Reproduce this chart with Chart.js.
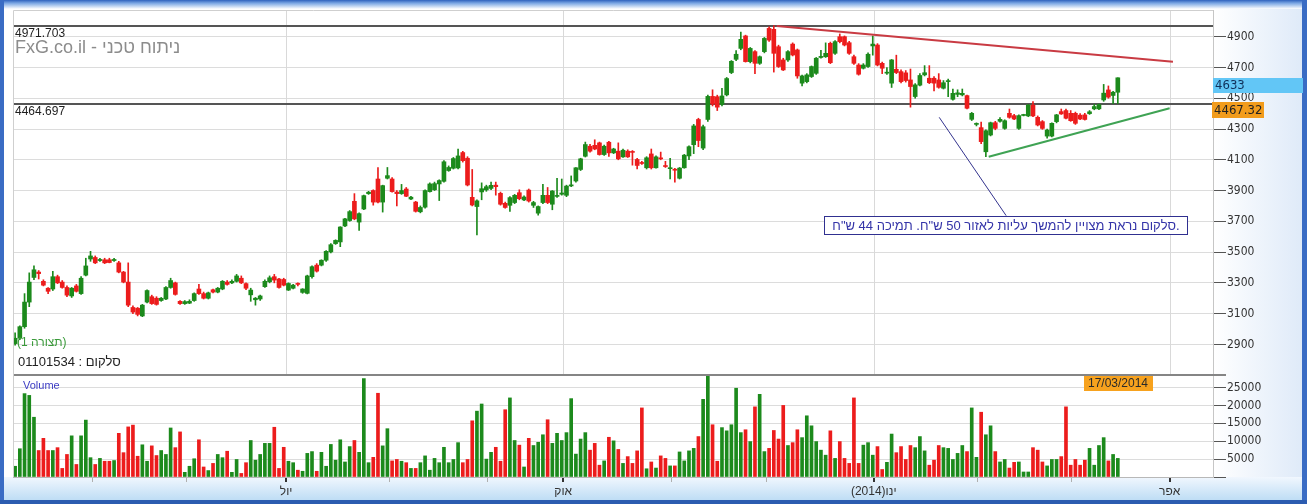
<!DOCTYPE html>
<html>
<head>
<meta charset="utf-8">
<title>סלקום</title>
<script src="https://cdn.jsdelivr.net/npm/chart.js@4.4.1/dist/chart.umd.min.js"></script>
<style>
  html, body { margin: 0; padding: 0; background: #fff; }
  #wrap { width: 1307px; height: 504px; }
  canvas { display: block; }
</style>
</head>
<body>
<div id="wrap"><canvas id="chart" width="1307" height="504"></canvas></div>
<script>
// daily candles, one entry per trading day (Apr 2013 - 17/03/2014)
const opens = [
  2905, 2940, 3015, 3175, 3335, 3370, 3310, 3265, 3260, 3340,
  3305, 3270, 3215, 3280, 3230, 3350, 3455, 3465, 3445, 3450,
  3450, 3445, 3430, 3370, 3305, 3140, 3135, 3085, 3175, 3210,
  3200, 3185, 3195, 3270, 3300, 3180, 3165, 3168, 3185, 3260,
  3230, 3200, 3255, 3240, 3260, 3305, 3300, 3310, 3330, 3295,
  3222, 3190, 3195, 3275, 3307, 3340, 3325, 3322, 3253, 3265,
  3293, 3238, 3232, 3340, 3415, 3415, 3447, 3501, 3555, 3566,
  3670, 3705, 3830, 3695, 3780, 3880, 3900, 3975, 3825, 3980,
  3975, 3890, 3880, 3910, 3845, 3825, 3762, 3792, 3893, 3905,
  3943, 3960, 4030, 4045, 4047, 4147, 4110, 3856, 3796, 3891,
  3904, 3914, 3935, 3882, 3817, 3804, 3822, 3886, 3839, 3903,
  3804, 3753, 3822, 3869, 3811, 3862, 3876, 3869, 3930, 3962,
  4037, 4123, 4188, 4194, 4210, 4134, 4214, 4145, 4156, 4119,
  4156, 4152, 4102, 4082, 4048, 4138, 4048, 4112, 4062, 4042,
  4038, 3980, 4048, 4125, 4198, 4362, 4176, 4362, 4512, 4510,
  4460, 4522, 4667, 4753, 4824, 4905, 4738, 4803, 4727, 4803,
  4954, 4948, 4835, 4749, 4749, 4852, 4814, 4598, 4608, 4641,
  4662, 4765, 4770, 4857, 4792, 4900, 4900, 4861, 4770, 4716,
  4695, 4706, 4840, 4846, 4727, 4663, 4598, 4688, 4673, 4665,
  4619, 4511, 4585, 4652, 4630, 4630, 4619, 4565, 4608, 4493,
  4525, 4522, 4517, 4363, 4330, 4309, 4152, 4261, 4341, 4350,
  4304, 4402, 4387, 4304, 4388, 4385, 4455, 4376, 4348, 4254,
  4254, 4348, 4413, 4420, 4402, 4402, 4390, 4392, 4400, 4431,
  4431, 4489, 4554, 4518, 4539
];
const highs = [
  2975, 3020, 3230, 3365, 3410, 3380, 3320, 3270, 3375, 3350,
  3315, 3280, 3270, 3290, 3340, 3460, 3505, 3475, 3460, 3460,
  3460, 3460, 3440, 3375, 3430, 3150, 3140, 3160, 3255, 3220,
  3210, 3205, 3275, 3330, 3305, 3185, 3185, 3190, 3235, 3290,
  3240, 3240, 3260, 3270, 3315, 3315, 3320, 3355, 3345, 3300,
  3265, 3205, 3220, 3320, 3345, 3355, 3330, 3330, 3300, 3290,
  3300, 3262, 3350, 3410, 3425, 3450, 3510, 3555, 3580, 3665,
  3720, 3770, 3880, 3755, 3870, 3895, 3905, 4050, 3935, 4050,
  3985, 3900, 3940, 3920, 3862, 3830, 3800, 3905, 3950, 3955,
  3970, 4095, 4060, 4115, 4170, 4155, 4120, 4037, 3840, 3950,
  3935, 3955, 3955, 3890, 3825, 3860, 3875, 3905, 3865, 3910,
  3830, 3800, 3940, 3920, 3900, 3980, 3975, 3935, 3995, 4050,
  4110, 4215, 4200, 4230, 4215, 4195, 4220, 4175, 4210, 4170,
  4165, 4160, 4110, 4090, 4120, 4170, 4125, 4150, 4090, 4110,
  4045, 4050, 4135, 4190, 4330, 4370, 4325, 4520, 4555, 4520,
  4565, 4635, 4745, 4810, 4930, 4910, 4830, 4810, 4775, 4895,
  4965, 4972, 4845, 4760, 4810, 4860, 4820, 4650, 4660, 4710,
  4765, 4812, 4860, 4865, 4875, 4918, 4905, 4870, 4780, 4725,
  4725, 4795, 4905, 4855, 4735, 4700, 4752, 4780, 4685, 4680,
  4690, 4595, 4660, 4712, 4712, 4640, 4660, 4615, 4625, 4560,
  4555, 4560, 4520, 4408, 4340, 4345, 4295, 4345, 4350, 4375,
  4360, 4430, 4395, 4392, 4396, 4460, 4478, 4385, 4355, 4300,
  4340, 4395, 4430, 4430, 4420, 4410, 4400, 4402, 4420, 4460,
  4462, 4590, 4580, 4545, 4633
];
const lows = [
  2895, 2930, 3005, 3145, 3320, 3325, 3280, 3230, 3250, 3295,
  3265, 3210, 3205, 3240, 3225, 3345, 3440, 3425, 3440, 3425,
  3430, 3440, 3365, 3300, 3145, 3100, 3085, 3080, 3170, 3160,
  3155, 3180, 3190, 3265, 3220, 3160, 3160, 3165, 3180, 3225,
  3195, 3195, 3235, 3235, 3255, 3285, 3295, 3305, 3295, 3255,
  3180, 3155, 3185, 3270, 3300, 3300, 3265, 3280, 3250, 3260,
  3280, 3232, 3228, 3330, 3370, 3410, 3440, 3495, 3550, 3535,
  3665, 3700, 3710, 3640, 3775, 3875, 3805, 3820, 3760, 3975,
  3890, 3800, 3875, 3860, 3840, 3760, 3755, 3785, 3890, 3900,
  3835, 3955, 4025, 4040, 4040, 4085, 3930, 3800, 3611, 3840,
  3895, 3905, 3870, 3805, 3785, 3765, 3815, 3840, 3835, 3825,
  3790, 3740, 3815, 3815, 3775, 3855, 3870, 3860, 3925, 3955,
  4030, 4118, 4150, 4165, 4130, 4128, 4122, 4140, 4100, 4115,
  4115, 4065, 4040, 4070, 4040, 4040, 4045, 4100, 4050, 3975,
  3955, 3975, 4045, 4100, 4140, 4185, 4165, 4350, 4450, 4420,
  4450, 4515, 4660, 4745, 4815, 4735, 4730, 4660, 4720, 4795,
  4870, 4670, 4700, 4680, 4740, 4775, 4630, 4580, 4600, 4635,
  4655, 4760, 4765, 4725, 4785, 4860, 4840, 4785, 4720, 4650,
  4690, 4700, 4780, 4710, 4660, 4655, 4570, 4660, 4600, 4605,
  4442, 4500, 4580, 4645, 4595, 4548, 4565, 4560, 4510, 4488,
  4510, 4515, 4430, 4355, 4320, 4205, 4120, 4255, 4295, 4345,
  4298, 4370, 4360, 4298, 4385, 4380, 4380, 4320, 4298, 4240,
  4248, 4340, 4395, 4365, 4350, 4330, 4360, 4358, 4395, 4425,
  4425, 4480, 4500, 4465, 4465
];
const closes = [
  2940, 3015, 3175, 3305, 3385, 3360, 3285, 3245, 3340, 3300,
  3270, 3220, 3265, 3245, 3330, 3410, 3475, 3430, 3452, 3430,
  3432, 3452, 3370, 3305, 3155, 3110, 3095, 3155, 3250, 3165,
  3160, 3200, 3270, 3315, 3225, 3165, 3178, 3180, 3230, 3230,
  3200, 3235, 3240, 3265, 3310, 3290, 3310, 3345, 3300, 3265,
  3253, 3200, 3215, 3310, 3333, 3318, 3270, 3285, 3296, 3285,
  3290, 3260, 3345, 3405, 3376, 3447, 3505, 3548, 3576, 3663,
  3716, 3763, 3716, 3750, 3867, 3889, 3825, 3825, 3932, 3997,
  3893, 3880, 3900, 3863, 3857, 3765, 3790, 3900, 3943, 3945,
  3965, 4087, 4050, 4108, 4125, 4094, 3936, 3806, 3833, 3912,
  3925, 3934, 3925, 3811, 3790, 3854, 3869, 3847, 3858, 3832,
  3822, 3796, 3869, 3822, 3897, 3868, 3884, 3929, 3937, 4048,
  4106, 4199, 4156, 4170, 4134, 4188, 4145, 4170, 4106, 4162,
  4119, 4148, 4063, 4076, 4113, 4048, 4119, 4106, 4056, 4048,
  4032, 4046, 4130, 4185, 4320, 4225, 4315, 4512, 4462, 4442,
  4515, 4628, 4740, 4786, 4883, 4738, 4824, 4727, 4770, 4889,
  4878, 4792, 4706, 4684, 4803, 4781, 4645, 4645, 4652, 4706,
  4760, 4772, 4792, 4731, 4868, 4868, 4846, 4792, 4727, 4656,
  4716, 4786, 4852, 4716, 4695, 4668, 4749, 4667, 4608, 4615,
  4576, 4587, 4648, 4666, 4601, 4598, 4571, 4601, 4614, 4532,
  4535, 4532, 4435, 4402, 4336, 4218, 4289, 4341, 4304, 4363,
  4354, 4376, 4365, 4387, 4392, 4455, 4385, 4326, 4304, 4293,
  4337, 4392, 4398, 4370, 4354, 4337, 4365, 4362, 4412, 4446,
  4459, 4533, 4507, 4539, 4633
];
const volumes = [
  3000, 7900, 23300, 22800, 16700, 7400, 10800, 7400, 7400, 8200,
  2400, 6300, 11500, 3500, 11500, 15900, 5400, 3500, 5200, 4400,
  4400, 4600, 12200, 6800, 14000, 14500, 5800, 9000, 4400, 8700,
  6000, 7400, 6300, 13700, 8200, 12600, 1300, 3000, 5100, 10400,
  2800, 1800, 3800, 6300, 5400, 7200, 1300, 4900, 1000, 4000,
  10200, 4700, 6300, 9400, 9400, 13900, 2400, 8300, 4400, 4000,
  1900, 1600, 6600, 7100, 1600, 6900, 3000, 9100, 4700, 10400,
  4200, 8500, 10200, 6900, 27500, 4000, 5500, 23400, 8700, 13500,
  4500, 4900, 4400, 4000, 2400, 2400, 4000, 5900, 1900, 5200,
  4000, 8300, 4000, 4900, 9600, 4000, 4900, 15700, 18400, 20400,
  5000, 6900, 8300, 4400, 18800, 22100, 10200, 8900, 2800, 10800,
  8800, 9700, 11800, 16000, 9400, 12200, 10200, 12400, 21900, 6400,
  10600, 12400, 7500, 9400, 3300, 4500, 11100, 10100, 7700, 3800,
  5700, 3800, 7300, 19300, 2300, 4200, 2500, 5900, 5200, 3100,
  3100, 7000, 4500, 7300, 8000, 11300, 21700, 28400, 14600, 4400,
  13800, 12900, 14600, 24800, 12400, 13200, 9900, 19600, 23100, 7100,
  8000, 13000, 10600, 20000, 8800, 9600, 13200, 11000, 17100, 14300,
  9900, 7500, 6100, 12900, 5200, 9900, 5200, 3800, 22100, 3800,
  8900, 9600, 6100, 8500, 2100, 4100, 12000, 6800, 8500, 4900,
  8800, 8200, 11300, 7300, 3300, 4700, 8800, 8200, 8000, 4900,
  6600, 8800, 7100, 19300, 5500, 18100, 11800, 14300, 7100, 4200,
  4900, 2500, 4100, 4200, 1400, 1400, 8200, 7500, 4200, 3100,
  4900, 4900, 5700, 19600, 3300, 4900, 3300, 4700, 8000, 3300,
  8800, 11000, 4500, 6300, 5200
];

// month boundaries on the trading-day axis, and their labels
const monthTicks = [16.5, 36.4, 57.5, 79.4, 100.3, 116.3, 139.2, 159.5, 182.2, 204.3, 224.1, 245.0];
const monthLabels = ['', '', 'יול', '', '', 'אוק', '', '', '(2014)ינו', '', '', 'אפר'];

const priceTicks = [2900, 3100, 3300, 3500, 3700, 3900, 4100, 4300, 4500, 4700, 4900];
const volumeTicks = [0, 5000, 10000, 15000, 20000, 25000];

// horizontal levels and drawn trend lines (trading-day index, price)
const levels = [4971.703, 4464.697];
const resistanceLine = [{x: 161.6, y: 4970}, {x: 245.7, y: 4737}];
const supportLine = [{x: 206.6, y: 4120}, {x: 245.0, y: 4435}];
const notePointer = [{x: 196.1, y: 4376}, {x: 210.3, y: 3737}];
const lastDate = '17/03/2014';
const avgValue = 4467.32;

[opens, highs, lows, closes, volumes].forEach(a => {
  if (a.length !== closes.length) throw new Error('length mismatch: ' + a.length);
});

const upColor = '#1c8a1c';
const downColor = '#ec1c1c';
const barColors = closes.map((c, i) => (c >= opens[i] ? upColor : downColor));
const idx = closes.map((c, i) => i);

Chart.defaults.font.family = "'Liberation Sans', Arial, sans-serif";
const axisFont = { family: "'Liberation Sans Narrow', 'DejaVu Sans Condensed', Arial, sans-serif", size: 12 };

const decor = {
  id: 'decor',
  beforeDraw(chart) {
    const { ctx, width, height, chartArea: a } = chart;
    ctx.save();
    ctx.fillStyle = '#fff';
    ctx.fillRect(0, 0, width, height);

    let g = ctx.createLinearGradient(a.right, 0, width, 0);
    g.addColorStop(0, '#ffffff');
    g.addColorStop(1, '#dde9f8');
    ctx.fillStyle = g;
    ctx.fillRect(a.right, 8, width - a.right, a.bottom - 8);

    g = ctx.createLinearGradient(0, a.bottom, 0, height);
    g.addColorStop(0, '#f1f7fe');
    g.addColorStop(1, '#b6d9f3');
    ctx.fillStyle = g;
    ctx.fillRect(0, a.bottom, width, height - a.bottom);

    // blue window frame
    g = ctx.createLinearGradient(0, 0, 0, 9);
    g.addColorStop(0, '#2f62bd');
    g.addColorStop(0.35, '#7aa6e3');
    g.addColorStop(1, '#ffffff');
    ctx.fillStyle = g;
    ctx.fillRect(0, 0, width, 9);
    ctx.fillStyle = '#3a6cc4';
    ctx.fillRect(0, 0, 4, height);
    ctx.fillRect(width - 5, 0, 5, height);
    ctx.fillStyle = '#2c5cb0';
    ctx.fillRect(0, height - 4, width, 4);
    ctx.restore();
  },
  beforeDatasetsDraw(chart) {
    const { ctx, chartArea: a, scales } = chart;
    const x = scales.x, y = scales.y;
    ctx.save();
    ctx.strokeStyle = '#d9d9d9';
    ctx.lineWidth = 1;
    monthTicks.forEach((m, i) => {
      if (!monthLabels[i]) return;
      const px = Math.round(x.getPixelForValue(m)) + 0.5;
      ctx.beginPath();
      ctx.moveTo(px, y.top);
      ctx.lineTo(px, y.bottom);
      ctx.stroke();
    });
    ctx.strokeStyle = '#555';
    ctx.lineWidth = 2;
    levels.forEach(v => {
      const py = Math.round(y.getPixelForValue(v));
      ctx.beginPath();
      ctx.moveTo(a.left, py);
      ctx.lineTo(a.right, py);
      ctx.stroke();
    });
    ctx.restore();
  },
  afterDatasetsDraw(chart) {
    const { ctx, chartArea: a, scales } = chart;
    ctx.save();
    // pane separator
    ctx.strokeStyle = '#858585';
    ctx.lineWidth = 2;
    ctx.beginPath();
    ctx.moveTo(a.left, scales.yv.top);
    ctx.lineTo(a.right + 13, scales.yv.top);
    ctx.stroke();
    // plot frame
    ctx.strokeStyle = '#cfcfcf';
    ctx.lineWidth = 1;
    ctx.beginPath();
    ctx.moveTo(a.left + 0.5, a.bottom);
    ctx.lineTo(a.left + 0.5, a.top + 0.5);
    ctx.lineTo(a.right, a.top + 0.5);
    ctx.stroke();
    ctx.restore();
  },
  afterDraw(chart) {
    const { ctx, chartArea: a, scales } = chart;
    const x = scales.x, y = scales.y, yv = scales.yv;
    ctx.save();
    ctx.textBaseline = 'alphabetic';
    ctx.textAlign = 'left';

    ctx.fillStyle = '#8c8c8c';
    ctx.font = "18px 'Liberation Sans', Arial, sans-serif";
    ctx.fillText('FxG.co.il - ניתוח טכני', a.left + 2, 53);

    ctx.fillStyle = '#1e1e1e';
    ctx.font = "12px 'Liberation Sans', Arial, sans-serif";
    ctx.textBaseline = 'top';
    levels.forEach(v => {
      ctx.fillText(v.toFixed(3), a.left + 2, Math.round(y.getPixelForValue(v)) + 2);
    });

    ctx.textBaseline = 'middle';
    ctx.fillStyle = '#3a9a3a';
    ctx.fillText('(תצורה 1)', a.left + 4, 343);
    ctx.fillStyle = '#222';
    ctx.font = "13px 'Liberation Sans', Arial, sans-serif";
    ctx.fillText('סלקום : 01101534', a.left + 5, 362);

    ctx.fillStyle = '#3c3cc4';
    ctx.font = "11px 'Liberation Sans', Arial, sans-serif";
    ctx.fillText('Volume', a.left + 10, yv.top + 11);

    // date flag at the last bar
    const lx = x.getPixelForValue(closes.length - 1);
    ctx.fillStyle = '#f7a21e';
    ctx.fillRect(Math.round(lx - 34), yv.top + 1, 69, 15);
    ctx.fillStyle = '#2a2a2a';
    ctx.font = "12px 'Liberation Sans', Arial, sans-serif";
    ctx.textAlign = 'center';
    ctx.fillText(lastDate, Math.round(lx), yv.top + 9);

    // price flags on the right axis
    ctx.textAlign = 'left';
    ctx.textBaseline = 'top';
    const last = closes[closes.length - 1];
    let py = Math.round(y.getPixelForValue(last));
    ctx.fillStyle = '#62c6f6';
    ctx.fillRect(a.right, py, 90, 15);
    ctx.fillStyle = '#10305a';
    ctx.font = "13px 'Liberation Sans Narrow', 'DejaVu Sans Condensed', Arial, sans-serif";
    ctx.fillText(String(last), a.right + 2, py + 1);
    py = Math.round(y.getPixelForValue(avgValue));
    ctx.fillStyle = '#f29c1c';
    ctx.fillRect(a.right - 1, py - 1, 52, 16);
    ctx.fillStyle = '#222';
    ctx.fillText(avgValue.toFixed(2), a.right + 1, py + 1);

    // comment box at the end of the pointer
    const tip = notePointer[1];
    const bx = Math.round(x.getPixelForValue(tip.x)) - 182;
    const by = Math.round(y.getPixelForValue(tip.y));
    ctx.fillStyle = '#ffffff';
    ctx.fillRect(bx, by, 363, 18);
    ctx.strokeStyle = '#303090';
    ctx.lineWidth = 1;
    ctx.strokeRect(bx + 0.5, by + 0.5, 363, 18);
    ctx.fillStyle = '#3434a8';
    ctx.font = "13px 'Liberation Sans', Arial, sans-serif";
    ctx.textAlign = 'center';
    ctx.textBaseline = 'middle';
    ctx.fillText('סלקום נראת מצויין להמשך עליות לאזור 50 ש"ח. תמיכה 44 ש"ח.', bx + 182, by + 10);
    ctx.restore();
  }
};

const ctx = document.getElementById('chart').getContext('2d');
new Chart(ctx, {
  type: 'bar',
  data: {
    datasets: [
      {
        type: 'line', label: 'resistance', yAxisID: 'y', data: resistanceLine,
        borderColor: '#c93b43', borderWidth: 2, pointRadius: 0, order: 0
      },
      {
        type: 'line', label: 'support', yAxisID: 'y', data: supportLine,
        borderColor: '#3fa354', borderWidth: 2, pointRadius: 0, order: 0
      },
      {
        type: 'line', label: 'pointer', yAxisID: 'y', data: notePointer,
        borderColor: '#34348e', borderWidth: 1, pointRadius: 0, order: 0
      },
      {
        label: 'body', yAxisID: 'y',
        data: idx.map(i => ({ x: i, y: [opens[i], closes[i]] })),
        backgroundColor: barColors, barThickness: 4, minBarLength: 1, order: 1
      },
      {
        label: 'wick', yAxisID: 'y',
        data: idx.map(i => ({ x: i, y: [lows[i], highs[i]] })),
        backgroundColor: barColors, barThickness: 1, order: 2
      },
      {
        label: 'volume', yAxisID: 'yv',
        data: idx.map(i => ({ x: i, y: volumes[i] })),
        backgroundColor: barColors, barThickness: 3, order: 3
      }
    ]
  },
  options: {
    responsive: false,
    devicePixelRatio: 1,
    animation: false,
    datasets: { bar: { grouped: false } },
    layout: { padding: { left: 13, top: 10, right: 5, bottom: 4 } },
    plugins: { legend: { display: false }, tooltip: { enabled: false } },
    scales: {
      x: {
        type: 'linear', position: 'bottom', min: -0.45, max: 254.2, offset: false,
        afterFit: s => { s.height = 23; },
        afterBuildTicks: s => { s.ticks = monthTicks.map(v => ({ value: v })); },
        grid: {
          offset: false, drawOnChartArea: false, tickLength: 5,
          tickColor: c => (c.tick && monthLabels[c.index] ? '#333' : '#b0b0b0'),
          lineWidth: c => (c.tick && monthLabels[c.index] ? 2 : 1)
        },
        border: { display: true, color: '#b8b8b8' },
        ticks: {
          autoSkip: false, maxRotation: 0, padding: 2, color: '#333',
          font: { size: 12 },
          callback: (v, i) => monthLabels[i]
        }
      },
      y: {
        type: 'linear', position: 'right', stack: 'panes', stackWeight: 365,
        min: 2701, max: 5073.6, beginAtZero: false,
        afterFit: s => { s.width = 89; },
        afterBuildTicks: s => { s.ticks = priceTicks.map(v => ({ value: v })); },
        grid: { color: '#dcdcdc', tickColor: '#555', tickLength: 13 },
        border: { display: true, color: '#c6c6c6' },
        ticks: { autoSkip: false, padding: 1, color: '#333', font: axisFont, callback: v => String(v) }
      },
      yv: {
        type: 'linear', position: 'right', stack: 'panes', stackWeight: 102,
        min: 0, max: 28500, beginAtZero: true,
        afterFit: s => { s.width = 89; },
        afterBuildTicks: s => { s.ticks = volumeTicks.map(v => ({ value: v })); },
        grid: { color: '#dcdcdc', tickColor: '#555', tickLength: 13 },
        border: { display: true, color: '#c6c6c6' },
        ticks: { autoSkip: false, padding: 1, color: '#333', font: axisFont, callback: v => (v ? String(v) : '') }
      }
    }
  },
  plugins: [decor]
});
</script>
</body>
</html>
